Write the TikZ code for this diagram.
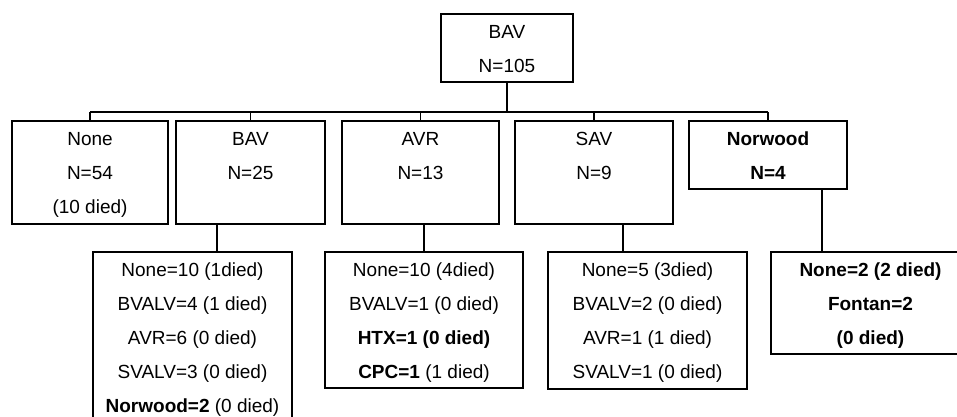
\documentclass[tikz,border=0pt]{standalone}
\usepackage{fontspec}
\setmainfont{Liberation Sans}
\usetikzlibrary{fit}

\tikzset{
  box/.style={draw, line width=0.6pt, inner sep=0pt},
  txt/.style={anchor=base, inner sep=0pt, font=\fontsize{9.5}{11}\selectfont},
  link/.style={line width=0.6pt},
}

\begin{document}
\begin{tikzpicture}[x=0.5pt, y=-0.5pt]
    \clip (0,0) rectangle (957,417);

    % boxes, given by their corners
    \foreach \b/\xa/\ya/\xb/\yb in {root/441/14/573/82,
        none/12/121/168/224, bav/176/121/325/224, avr/342/121/499/224,
        sav/515/121/673/224, norwood/689/121/847/189,
        bavkids/93/252/292/440, avrkids/325/252/523/388,
        savkids/548/252/747/389, norkids/771/252/970/354} {
      \node[box, fit={(\xa,\ya) (\xb,\yb)}] (\b) {};
    }

    % one text line every 34 units, from the top of each box
    \foreach \b/\lines in {root/{BAV,N=105},
        none/{None,N=54,(10 died)}, bav/{BAV,N=25}, avr/{AVR,N=13},
        sav/{SAV,N=9}, norwood/{\textbf{Norwood},\textbf{N=4}},
        bavkids/{None=10 (1died),BVALV=4 (1 died),AVR=6 (0 died),
          SVALV=3 (0 died),\textbf{Norwood=2} (0 died)},
        avrkids/{None=10 (4died),BVALV=1 (0 died),
          \textbf{HTX=1 (0 died)},\textbf{CPC=1} (1 died)},
        savkids/{None=5 (3died),BVALV=2 (0 died),AVR=1 (1 died),
          SVALV=1 (0 died)},
        norkids/{\textbf{None=2 (2 died)},\textbf{Fontan=2},
          \textbf{(0 died)}}} {
      \foreach \t [count=\i] in \lines
        \path (\b.north) ++(0,{25+34*(\i-1)}) node[txt] (\b-\i) {\t};
    }

    % first split
    \coordinate (bus) at (507,112);
    \draw[link] (root.south) -- (bus);
    \draw[link] (none.north |- bus) -- (norwood.north |- bus);
    \foreach \b in {none,bav,avr,sav,norwood}
      \draw[link] (\b.north) -- (\b.north |- bus);

    % second split, stems a bit off centre
    \foreach \a/\b/\dx in {bav/bavkids/24.5, avr/avrkids/0,
        sav/savkids/-24.5, norwood/norkids/-48.5} {
      \coordinate (\b-top) at ([xshift=\dx*0.5pt]\b.north);
      \draw[link] (\b-top) -- (\b-top |- \a.south);
    }
\end{tikzpicture}
\end{document}
